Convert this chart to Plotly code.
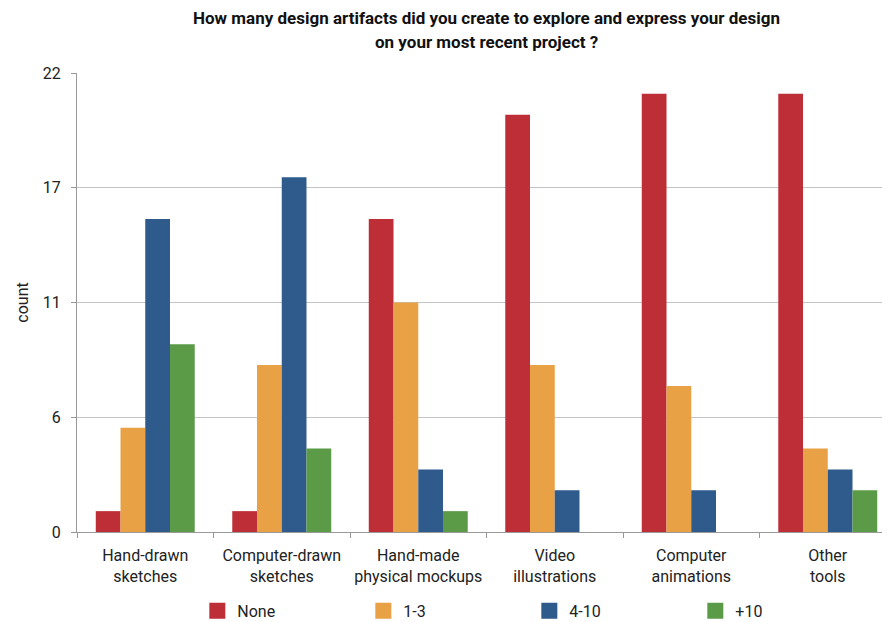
import plotly.graph_objects as go

categories = ["Hand-drawn<br>sketches", "Computer-drawn<br>sketches", "Hand-made<br>physical mockups",
              "Video<br>illustrations", "Computer<br>animations", "Other<br>tools"]
series_names = ["None", "1-3", "4-10", "+10"]
none_vals = [1, 1, 15, 20, 21, 21]
one_three = [5, 8, 11, 8, 7, 4]
four_ten = [15, 17, 3, 2, 2, 3]
plus_ten = [9, 4, 1, 0, 0, 2]
colors = ["#BE2E37", "#E8A145", "#2E5A8C", "#5B9A47"]
ytick_vals = [0, 5.5, 11, 16.5, 22]
ytick_text = ["0", "6", "11", "17", "22"]
title_lines = ["How many design artifacts did you create to explore and express your design",
               "on your most recent project ?"]

# page body has an 8px margin, so the figure is laid out 8px smaller
W, H = 882, 614
PL, PT, PB = 69, 65, 524  # plot left, top, bottom in figure pixels

fig = go.Figure()
for name, vals, c in zip(series_names, [none_vals, one_three, four_ten, plus_ten], colors):
    fig.add_trace(go.Bar(x=categories, y=vals, name=name, marker_color=c, marker_line_width=0,
                         showlegend=False))
for name, c in zip(series_names, colors):
    fig.add_trace(go.Scatter(x=[None], y=[None], mode="markers", name=name,
                             marker=dict(symbol="square", size=18, color=c)))

ph = PB - PT
for i, line in enumerate(title_lines):
    fig.add_annotation(text="<b>" + line + "</b>", xref="paper", yref="paper",
                       x=0.504, y=(PB - 10 - 24 * i) / ph, xanchor="center", yanchor="middle",
                       showarrow=False, font=dict(family="Roboto", size=17, color="#111"))

fig.update_layout(
    width=W, height=H,
    margin=dict(l=PL, r=0, t=PT, b=H - PB, autoexpand=False),
    paper_bgcolor="white", plot_bgcolor="white",
    font=dict(family="Roboto", size=16, color="#222"),
    barmode="group", bargap=0.275, bargroupgap=0,
    legend=dict(orientation="h", x=0.148, xanchor="left", y=-0.172, yanchor="middle",
                entrywidth=121, entrywidthmode="pixels", font=dict(size=16, color="#222"),
                itemsizing="trace"),
)
fig.update_xaxes(range=[-0.5, 5.456], showline=True, linecolor="#999", linewidth=1,
                 ticks="outside", tickson="boundaries", ticklen=5, tickcolor="#999",
                 tickfont=dict(size=16, color="#222"), showgrid=False, automargin=False,
                 tickangle=0, ticklabelstandoff=9)
fig.update_yaxes(range=[0, 22], tickvals=ytick_vals, ticktext=ytick_text,
                 showline=True, linecolor="#999", linewidth=1,
                 ticks="outside", ticklen=5, tickcolor="#999",
                 showgrid=True, gridcolor="#c4c4c4", gridwidth=1, zeroline=False,
                 tickfont=dict(size=16, color="#222"), automargin=False, ticklabelstandoff=7,
                 title=dict(text="count", font=dict(size=16, color="#222"), standoff=10))

fig.write_html("out.html")
